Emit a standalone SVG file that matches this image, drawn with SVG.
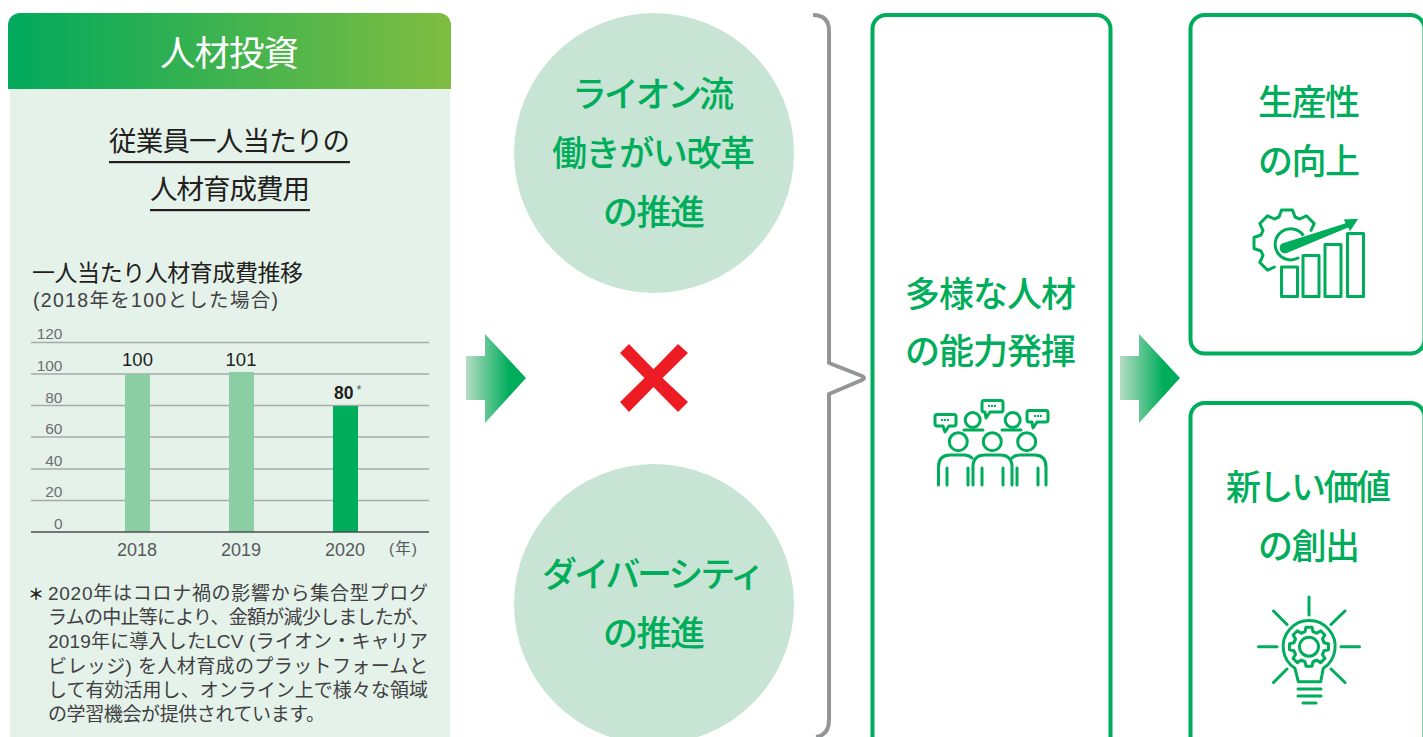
<svg xmlns="http://www.w3.org/2000/svg" xmlns:xlink="http://www.w3.org/1999/xlink" width="1423" height="737" viewBox="0 0 1423 737">
<style>
text{font-family:"Liberation Sans","Noto Sans CJK JP",sans-serif}
.g{fill:#00ad5b;font-size:35px;font-weight:500}
.h{fill:#231f20;font-size:27.500px}
.ax{fill:#6d6e71;font-size:15.500px;text-anchor:end}
.yr{fill:#58595b;font-size:18px;text-anchor:middle}
.v{fill:#231f20;font-size:18.500px;text-anchor:middle}
.n{fill:#414042;font-size:19px}
.grid{stroke:#a7aaa9;stroke-width:1.300}
.box{fill:#fff;stroke:#00ad5b;stroke-width:4}
.ic{fill:none;stroke:#00ad5b;stroke-width:3;stroke-linecap:round;stroke-linejoin:round}
.ict{fill:none;stroke:#00ad5b;stroke-width:3;stroke-linejoin:round}
</style>
<defs>
<linearGradient id="hd" x1="0" x2="1" y1="0" y2="0"><stop offset="0" stop-color="#00a95c"/><stop offset="1" stop-color="#80bd41"/></linearGradient>
<linearGradient id="ar" x1="0" x2="1" y1="0" y2="0"><stop offset="0" stop-color="#b5dcc3"/><stop offset="0.72" stop-color="#00ad5b"/><stop offset="1" stop-color="#00ad5b"/></linearGradient>
<polygon id="arrow" points="0,22 19,22 19,0 60,44 19,89 19,66 0,66" fill="url(#ar)"/>
<path id="tooth" d="M-5.900,-14.300 L-4,-15 L-3,-19.500 L3,-19.500 L4,-15 L5.900,-14.300"/>
</defs>

<g id="panel">
<path d="M10,85H450V737H10Z" fill="#e4f2ea"/>
<path d="M8,89V25a12,12 0 0 1 12,-12H439a12,12 0 0 1 12,12V89Z" fill="url(#hd)"/>
<text x="160" y="66" fill="#fff" font-size="35.500" textLength="139">人材投資</text>
<text class="h" x="109" y="151" textLength="241">従業員一人当たりの</text>
<rect x="109" y="161" width="241" height="2.200" fill="#231f20"/>
<text class="h" x="150" y="199" textLength="160">人材育成費用</text>
<rect x="150" y="209" width="160" height="2.200" fill="#231f20"/>
<text x="32" y="281" fill="#231f20" font-size="23" textLength="271">一人当たり人材育成費推移</text>
<text x="33" y="307" fill="#414042" font-size="19.500" textLength="245">(2018年を100とした場合)</text>
</g>

<g id="chart">
<path class="grid" d="M31,342.500H429M31,374H429M31,405.500H429M31,437H429M31,469H429M31,500.500H429" fill="none"/>
<rect x="125" y="374" width="25" height="158" fill="#8ccea4"/>
<rect x="229" y="372" width="25" height="160" fill="#8ccea4"/>
<rect x="333" y="406" width="25" height="126" fill="#00ad5b"/>
<path d="M31,532H429" stroke="#4d4d4f" stroke-width="1.500"/>
<text class="ax" x="62.500" y="339">120</text>
<text class="ax" x="62.500" y="371">100</text>
<text class="ax" x="62.500" y="403">80</text>
<text class="ax" x="62.500" y="434">60</text>
<text class="ax" x="62.500" y="466">40</text>
<text class="ax" x="62.500" y="497">20</text>
<text class="ax" x="62.500" y="529">0</text>
<text class="v" x="137.500" y="366">100</text>
<text class="v" x="241" y="366">101</text>
<text x="334" y="399" fill="#231f20" font-size="17.500" font-weight="700">80</text>
<text x="356.500" y="394" fill="#58595b" font-size="13">*</text>
<text class="yr" x="137" y="556">2018</text>
<text class="yr" x="241" y="556">2019</text>
<text class="yr" x="345" y="556">2020</text>
<text x="389" y="554" fill="#58595b" font-size="15.500" textLength="28">(年)</text>
</g>

<g id="note">
<text x="28" y="600" fill="#231f20" font-size="16" font-weight="700">＊</text>
<text class="n" x="48" y="600" textLength="380">2020年はコロナ禍の影響から集合型プログ</text>
<text class="n" x="48" y="624" textLength="382">ラムの中止等により、金額が減少しましたが、</text>
<text class="n" x="48" y="648" textLength="380">2019年に導入したLCV (ライオン・キャリア</text>
<text class="n" x="48" y="672.500" textLength="380">ビレッジ) を人材育成のプラットフォームと</text>
<text class="n" x="48" y="697" textLength="380">して有効活用し、オンライン上で様々な領域</text>
<text class="n" x="48" y="721" textLength="277">の学習機会が提供されています。</text>
</g>

<g id="circle-top">
<circle cx="654" cy="153" r="140" fill="#c8e4d4"/>
<text class="g" x="572" y="107" textLength="162">ライオン流</text>
<text class="g" x="552" y="166" textLength="203">働きがい改革</text>
<text class="g" x="603" y="225" textLength="102">の推進</text>
</g>
<g id="circle-bottom">
<circle cx="654" cy="604" r="140" fill="#c8e4d4"/>
<text class="g" x="542" y="587" textLength="223">ダイバーシティ</text>
<text class="g" x="603" y="646" textLength="102">の推進</text>
</g>
<g id="cross">
<polygon points="620,353 629,344 653.500,369.300 678,344 688,353 662.500,378 688,402 678,412 653.500,387 629,412 620,402 644.500,378" fill="#ed1c24"/>
</g>

<g id="connectors">
<use xlink:href="#arrow" href="#arrow" x="466" y="334"/>
<use xlink:href="#arrow" href="#arrow" x="1120" y="334"/>
<path d="M813,15Q829,15 829,31V363L862,376Q866,378 862,380L829,394V720Q829,735 816,737" fill="none" stroke="#939598" stroke-width="4" stroke-linejoin="round"/>
</g>

<g id="node-talent">
<rect class="box" x="872.500" y="15" width="238" height="760" rx="14"/>
<text class="g" x="905" y="307" textLength="171">多様な人材</text>
<text class="g" x="905" y="364" textLength="171">の能力発揮</text>
<g class="ic">
<circle cx="958.300" cy="441.700" r="9"/><circle cx="992.300" cy="441.700" r="9"/><circle cx="1026.700" cy="441.700" r="9"/>
<circle cx="972.700" cy="420" r="7.500"/><circle cx="1012.700" cy="420" r="7.500"/>
<path d="M964,430H983M1002,430H1021"/>
<path d="M973,485V467Q973,455 985,455H1000Q1012,455 1012,467V485M982,468V485M1003,468V485"/>
<path d="M938.500,485V467Q938.500,455 950,455H964Q969,455 972,458M947,468V485M968,468V485"/>
<path d="M1046,485V467Q1046,455 1034.500,455H1020Q1015,455 1012,458M1038,468V485M1017,468V485"/>
<path d="M937,414.500H954Q956,414.500 956,417V423.500Q956,426 954,426H949L945,432L943,426H937Q935,426 935,423.500V417Q935,414.500 937,414.500Z"/>
<path d="M984,400.500H1001Q1003,400.500 1003,403V409.500Q1003,412 1001,412H990L986,418L985,412H984Q982,412 982,409.500V403Q982,400.500 984,400.500Z"/>
<path d="M1029,410.500H1046Q1048,410.500 1048,413V419.500Q1048,422 1046,422H1037L1033,428L1032,422H1029Q1027,422 1027,419.500V413Q1027,410.500 1029,410.500Z"/>
</g>
<path d="M941,420h8M988,406h9M1034,416h8" stroke="#00ad5b" stroke-width="2" stroke-dasharray="2 1" fill="none"/>
</g>

<g id="node-productivity">
<rect class="box" x="1190.500" y="15" width="234" height="338.500" rx="14"/>
<text class="g" x="1258" y="115" textLength="102">生産性</text>
<text class="g" x="1258" y="174" textLength="102">の向上</text>
<g class="ict">
<rect x="1281.500" y="267" width="16" height="29.500"/>
<rect x="1303" y="255.500" width="16" height="41"/>
<rect x="1325" y="244.500" width="16" height="52"/>
<rect x="1347.500" y="233.500" width="16" height="63"/>
</g>
<path class="ic" transform="translate(1287,243)" d="M24,-12.700L27.200,-19.400L19.400,-27.200L12.700,-24L8,-26L5.500,-33H-5.500L-8,-26L-12.700,-24L-19.400,-27.200L-27.200,-19.400L-24,-12.700L-26,-8L-33,-5.500V5.500L-26,8L-24,12.700L-27.200,19.400L-19.400,27.200L-12.700,24"/>
<path class="ic" d="M1303,235A15.500,15.500 0 1 0 1298,258"/>
<path d="M1282,243L1345,223L1343,219L1359,218.300L1350,232L1348,228L1288,253A5.500,5.500 0 0 1 1282,243Z" fill="#00ad5b" stroke="#fff" stroke-width="1"/>
</g>

<g id="node-value">
<rect class="box" x="1190.500" y="403" width="234" height="380" rx="14"/>
<text class="g" x="1226" y="500" textLength="165">新しい価値</text>
<text class="g" x="1258" y="559" textLength="102">の創出</text>
<g class="ic">
<path d="M1309,597V615M1258.500,646.700H1277M1341,646.700H1359.500M1273.500,611L1287,624.500M1345,611L1331,624.500M1273.500,682.500L1287,669M1345,682.500L1331,669"/>
<path d="M1298.300,681.700L1295,668.300A26,26 0 1 1 1323.300,668.300L1320.700,681.700Z"/>
<path d="M1298,689H1321M1298,696H1321M1303,703H1316"/>
<circle cx="1309" cy="646.700" r="9.500"/>
<g transform="translate(1309,646.700)">
<use xlink:href="#tooth" href="#tooth"/>
<use xlink:href="#tooth" href="#tooth" transform="rotate(45)"/>
<use xlink:href="#tooth" href="#tooth" transform="rotate(90)"/>
<use xlink:href="#tooth" href="#tooth" transform="rotate(135)"/>
<use xlink:href="#tooth" href="#tooth" transform="rotate(180)"/>
<use xlink:href="#tooth" href="#tooth" transform="rotate(225)"/>
<use xlink:href="#tooth" href="#tooth" transform="rotate(270)"/>
<use xlink:href="#tooth" href="#tooth" transform="rotate(315)"/>
</g>
</g>
</g>
</svg>
